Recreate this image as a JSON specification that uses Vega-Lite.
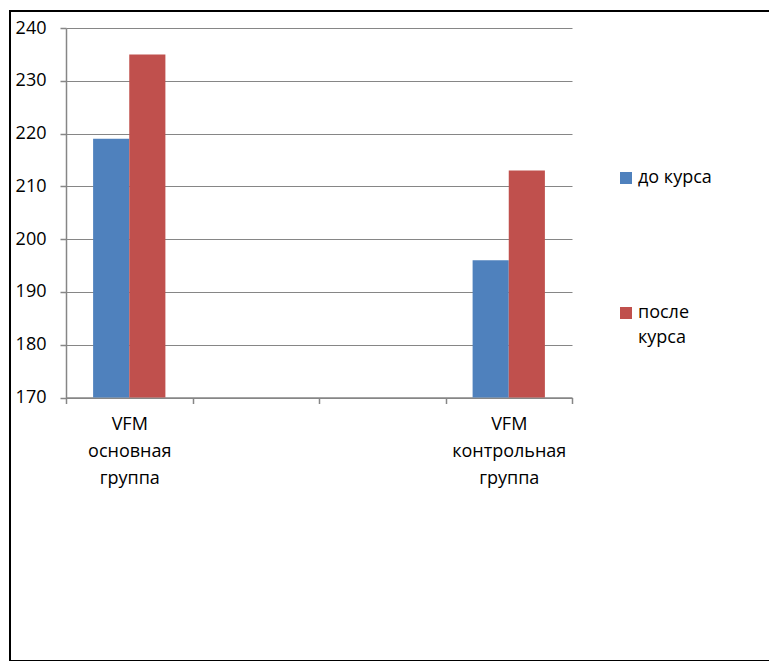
{
  "$schema": "https://vega.github.io/schema/vega-lite/v6.json",
  "width": 770,
  "height": 650,
  "autosize": "none",
  "padding": {"left": 10, "top": 11, "right": 0, "bottom": 0},
  "background": "white",
  "config": {
    "view": {"stroke": "#000000", "strokeWidth": 2},
    "font": "Open Sans",
    "axis": {
      "labelFont": "Open Sans",
      "labelFontSize": 18,
      "labelColor": "#000000",
      "domainColor": "#868686",
      "tickColor": "#868686",
      "gridColor": "#868686",
      "gridWidth": 1,
      "domainWidth": 1.5,
      "tickWidth": 1.5,
      "tickSize": 6,
      "title": null
    },
    "legend": {
      "labelFont": "Open Sans",
      "labelFontSize": 18,
      "labelColor": "#000000"
    }
  },
  "data": {
    "values": [
      {"group": "VFM|основная|группа", "period": "до курса", "value": 219},
      {"group": "VFM|основная|группа", "period": "после курса", "value": 235},
      {"group": "VFM|контрольная|группа", "period": "до курса", "value": 196},
      {"group": "VFM|контрольная|группа", "period": "после курса", "value": 213}
    ]
  },
  "mark": {"type": "bar"},
  "encoding": {
    "x": {
      "field": "group",
      "type": "nominal",
      "scale": {
        "domain": ["VFM|основная|группа", " ", "  ", "VFM|контрольная|группа"],
        "range": [56, 562],
        "paddingInner": 0,
        "paddingOuter": 0
      },
      "axis": {
        "orient": "bottom",
        "offset": -263.5,
        "tickBand": "extent",
        "labelAngle": 0,
        "labelPadding": 12,
        "labelLineHeight": 27,
        "labelExpr": "split(datum.label, '|')",
        "grid": false
      }
    },
    "xOffset": {
      "field": "period",
      "type": "nominal",
      "scale": {"paddingInner": 0, "paddingOuter": 0.75}
    },
    "y": {
      "field": "value",
      "type": "quantitative",
      "scale": {"domain": [170, 240], "range": [386.5, 17], "nice": false, "zero": false},
      "axis": {
        "orient": "left",
        "offset": -56,
        "values": [170, 180, 190, 200, 210, 220, 230, 240],
        "labelPadding": 14,
        "grid": true
      }
    },
    "y2": {"datum": 170},
    "color": {
      "field": "period",
      "type": "nominal",
      "scale": {"domain": ["до курса", "после курса"], "range": ["#4F81BD", "#C0504D"]},
      "legend": {
        "title": null,
        "orient": "none",
        "legendX": 607,
        "legendY": 158,
        "symbolType": "square",
        "symbolSize": 144,
        "symbolStrokeWidth": 0,
        "labelOffset": 3,
        "labelBaseline": "alphabetic",
        "rowPadding": 117,
        "labelExpr": "split(datum.label, ' ')[0] == 'после' ? ['после', 'курса'] : datum.label",
        "encode": {
          "labels": {
            "update": {
              "dy": {"value": 5},
              "lineHeight": {"value": 25}
            }
          }
        }
      }
    }
  }
}
